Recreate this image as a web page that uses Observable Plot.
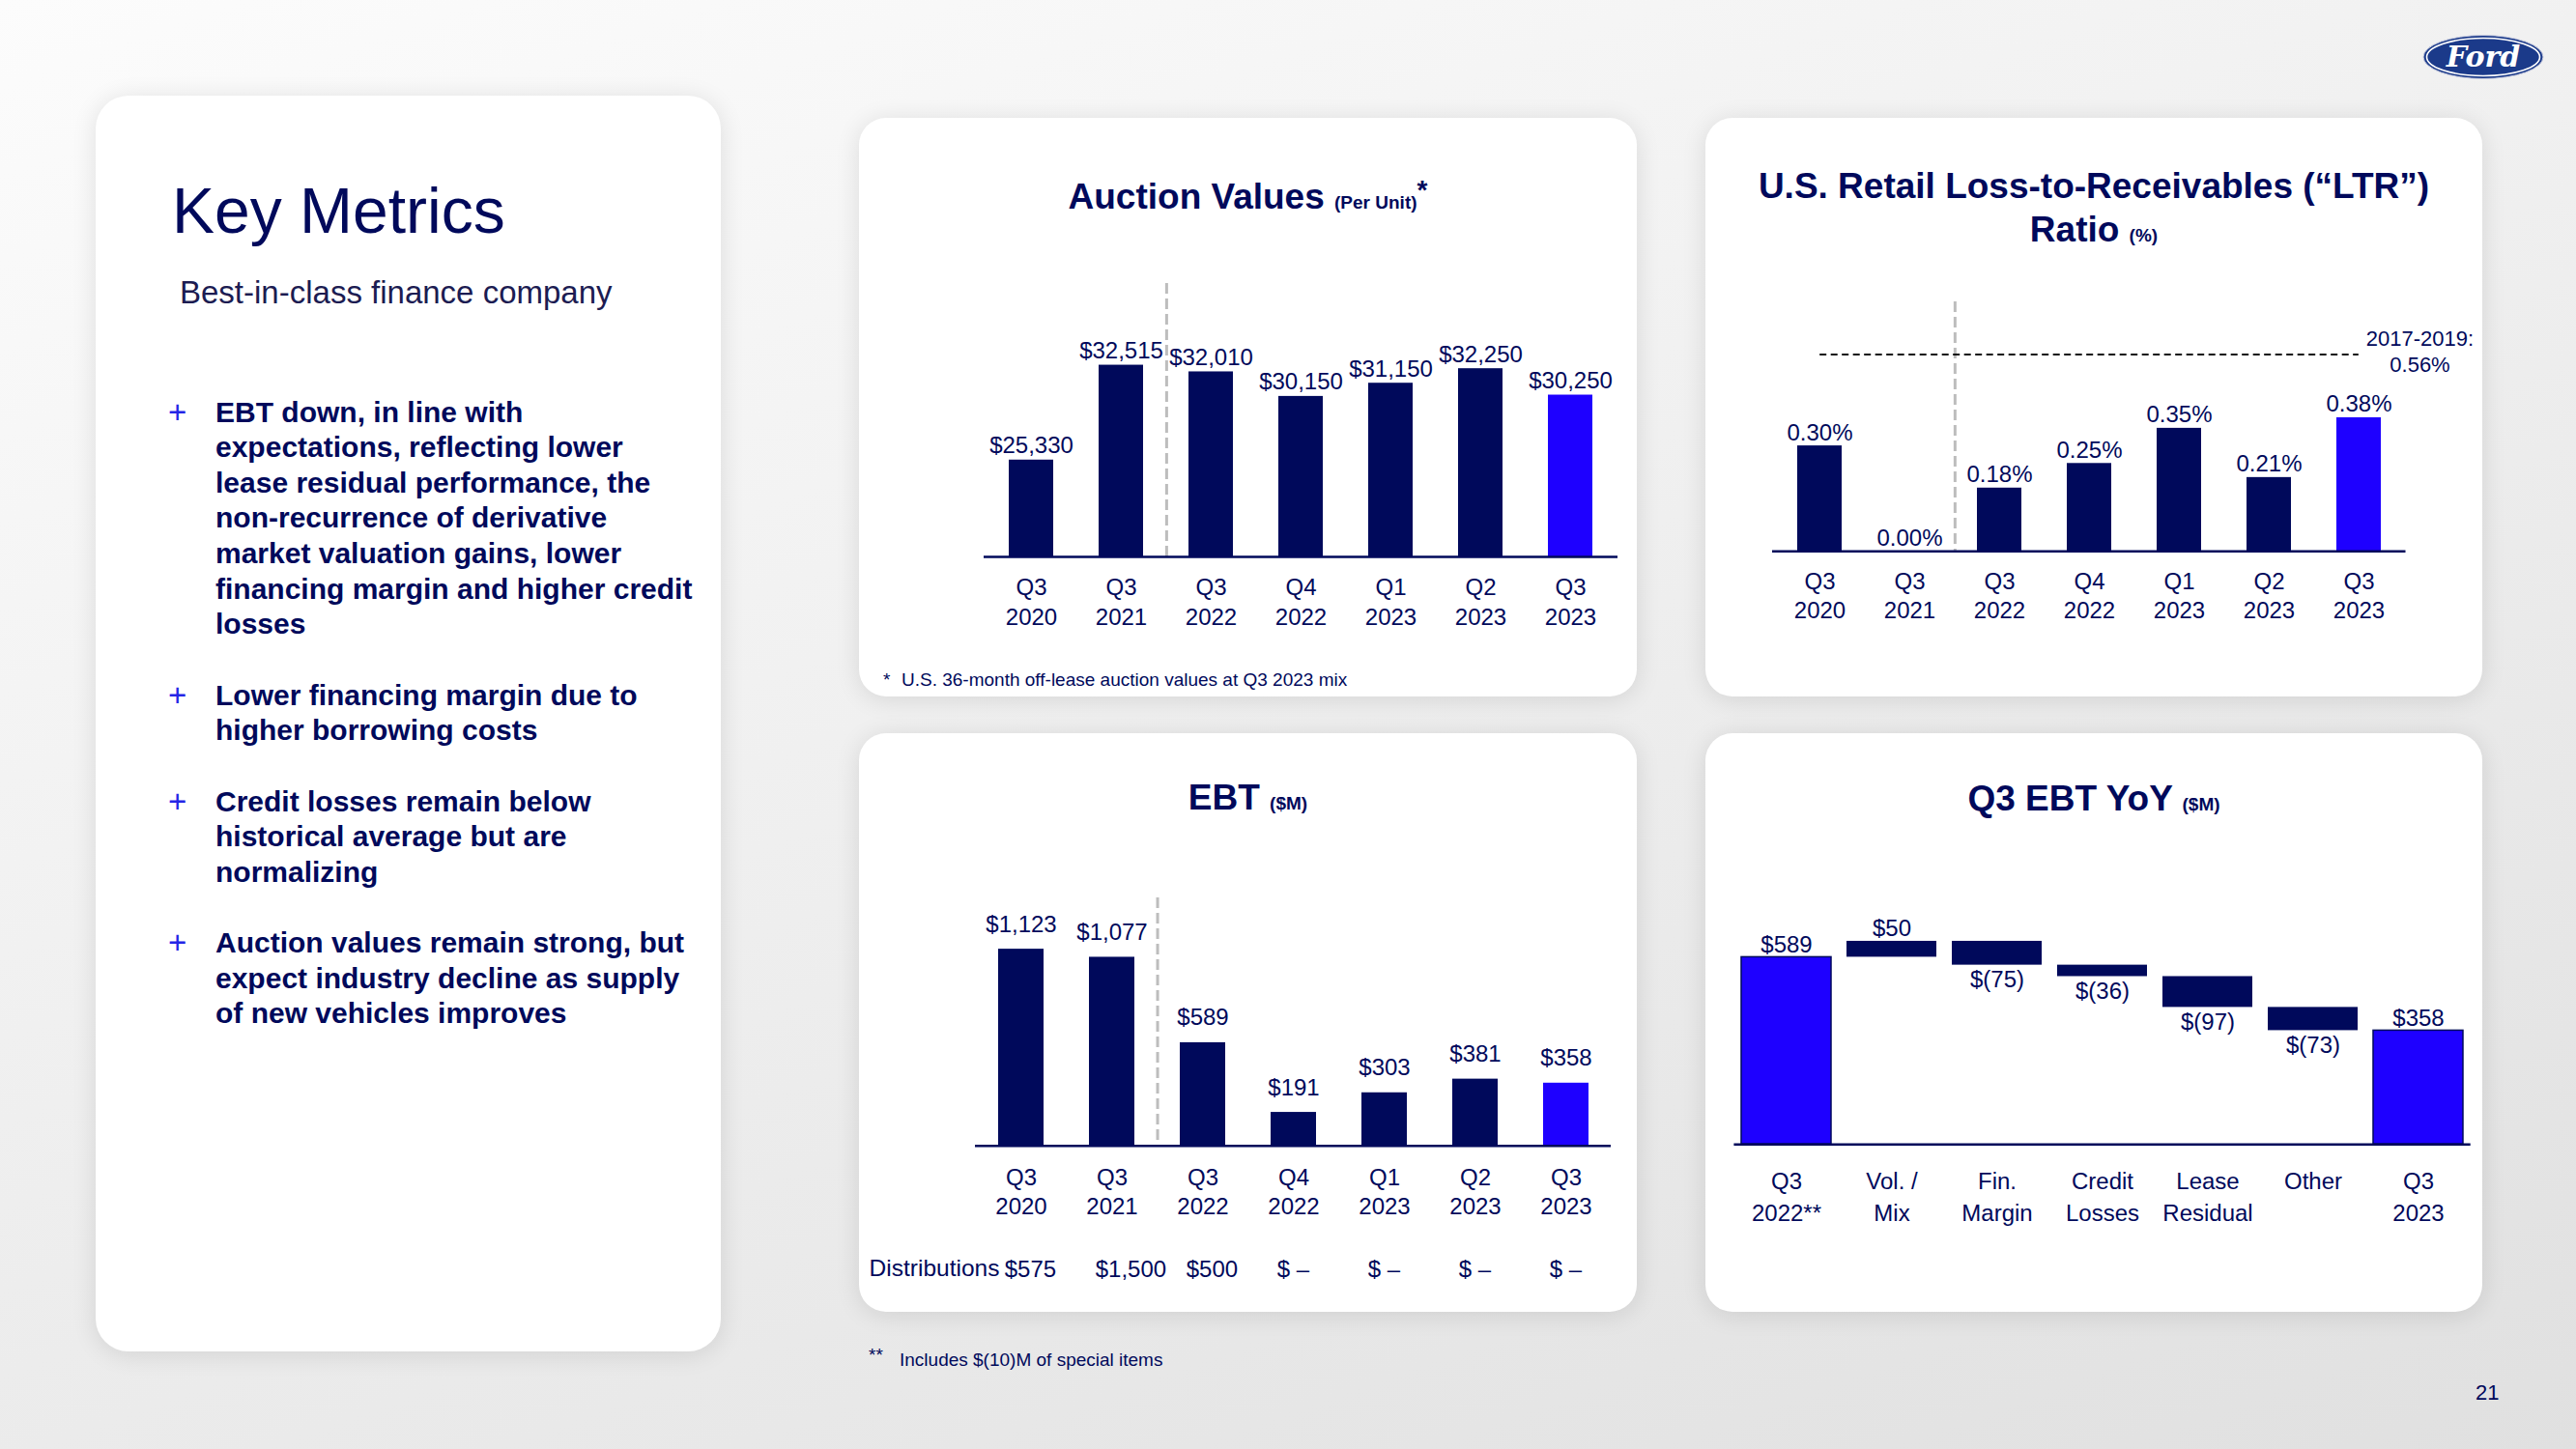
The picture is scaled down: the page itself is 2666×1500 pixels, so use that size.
<!DOCTYPE html>
<html>
<head>
<meta charset="utf-8">
<script src="https://cdn.jsdelivr.net/npm/d3@7"></script>
<script src="https://cdn.jsdelivr.net/npm/@observablehq/plot@0.6"></script>
<style>
  html, body { margin: 0; padding: 0; }
  body {
    width: 2666px; height: 1500px; position: relative; overflow: hidden;
    background: linear-gradient(160deg, #fcfcfc 0%, #f1f1f1 40%, #e0e0e0 100%);
    font-family: "Liberation Sans", Arial, sans-serif; color: #00095b;
  }
  .panel { position: absolute; background: #ffffff; border-radius: 28px; box-shadow: 0 3px 26px rgba(0,0,0,0.11); }
  .abs { position: absolute; white-space: nowrap; }
  .title { font-weight: bold; font-size: 37px; line-height: 37px; text-align: center; }
  .sm { font-size: 19px; line-height: 1; }
  .bullet { font-weight: bold; font-size: 30px; line-height: 36.6px; }
  .plus { position: absolute; left: -49px; top: 0; font-weight: normal; font-size: 33px; color: #2525e6; }
  .chart { position: absolute; }
</style>
</head>
<body>
<!-- panels -->
<div class="panel" style="left:99px;top:99px;width:647px;height:1300px;border-radius:34px;"></div>
<div class="panel" style="left:889px;top:122px;width:805px;height:599px;"></div>
<div class="panel" style="left:1765px;top:122px;width:804px;height:599px;"></div>
<div class="panel" style="left:889px;top:759px;width:805px;height:599px;"></div>
<div class="panel" style="left:1765px;top:759px;width:804px;height:599px;"></div>

<!-- left text -->
<div class="abs" style="left:178px;top:185px;font-size:66px;line-height:66px;">Key Metrics</div>
<div class="abs" style="left:186px;top:286px;font-size:33px;line-height:33px;color:#1c1c52;">Best-in-class finance company</div>

<div class="abs bullet" style="left:223px;top:408.7px;"><span class="plus">+</span>EBT down, in line with<br>expectations, reflecting lower<br>lease residual performance, the<br>non-recurrence of derivative<br>market valuation gains, lower<br>financing margin and higher credit<br>losses</div>
<div class="abs bullet" style="left:223px;top:701.6px;"><span class="plus">+</span>Lower financing margin due to<br>higher borrowing costs</div>
<div class="abs bullet" style="left:223px;top:811.9px;"><span class="plus">+</span>Credit losses remain below<br>historical average but are<br>normalizing</div>
<div class="abs bullet" style="left:223px;top:958.3px;"><span class="plus">+</span>Auction values remain strong, but<br>expect industry decline as supply<br>of new vehicles improves</div>

<!-- chart titles -->
<div class="abs title" style="left:889px;width:805px;top:184.7px;">Auction Values <span class="sm">(Per Unit)</span><span style="position:relative;top:-10px;font-size:28px;line-height:1;">*</span></div>
<div class="abs title" style="left:1765px;width:804px;top:169.5px;line-height:45.4px;">U.S. Retail Loss-to-Receivables (“LTR”)<br>Ratio <span class="sm">(%)</span></div>
<div class="abs title" style="left:889px;width:805px;top:807.1px;">EBT <span class="sm">($M)</span></div>
<div class="abs title" style="left:1765px;width:804px;top:807.7px;">Q3 EBT YoY <span class="sm">($M)</span></div>

<!-- footnotes & misc -->
<div class="abs" style="left:914px;top:694px;font-size:19px;line-height:19px;">*</div>
<div class="abs" style="left:933px;top:694px;font-size:19px;line-height:19px;">U.S. 36-month off-lease auction values at Q3 2023 mix</div>
<div class="abs" style="left:899px;top:1393px;font-size:19px;line-height:19px;">**</div>
<div class="abs" style="left:931px;top:1398px;font-size:19px;line-height:19px;">Includes $(10)M of special items</div>
<div class="abs" style="left:899.6px;top:1301.4px;font-size:24.5px;line-height:24.5px;">Distributions</div>
<div class="abs" style="left:2562px;top:1431.4px;font-size:22px;line-height:22px;">21</div>

<!-- logo -->
<svg class="abs" style="left:2506px;top:34px" width="128" height="50" viewBox="0 0 128 50">
  <ellipse cx="64" cy="25" rx="62" ry="22.5" fill="#1b3a8a" stroke="#c9cde0" stroke-width="1"/>
  <ellipse cx="64" cy="25" rx="58.5" ry="19.5" fill="none" stroke="#ffffff" stroke-width="1.6"/>
  <text x="64" y="35" text-anchor="middle" font-family="DejaVu Serif" font-style="italic" font-weight="bold" font-size="30" fill="#ffffff">Ford</text>
</svg>

<script>
// ---------- data ----------
const quarters = ["Q3 2020", "Q3 2021", "Q3 2022", "Q4 2022", "Q1 2023", "Q2 2023", "Q3 2023"];
const auctionValues = [25330, 32515, 32010, 30150, 31150, 32250, 30250];
const auctionBase = 18000;
const ltrValues = [0.30, 0.00, 0.18, 0.25, 0.35, 0.21, 0.38];
const ltrBenchmark = 0.56;
const ltrBenchmarkPeriod = "2017-2019:";
const ebtValues = [1123, 1077, 589, 191, 303, 381, 358];
const distributions = [575, 1500, 500, 0, 0, 0, 0];
const wfCategories = ["Q3\n2022**", "Vol. /\nMix", "Fin.\nMargin", "Credit\nLosses", "Lease\nResidual", "Other", "Q3\n2023"];
const wfValues = [589, 50, -75, -36, -97, -73, 358];
const wfIsTotal = [true, false, false, false, false, false, true];
const highlight = "Q3 2023";
const dividerAfter = "Q3 2021";

// ---------- style ----------
const navy = "#00095b";
const bright = "#1e00ff";
const font = '"Liberation Sans", Arial, sans-serif';
const baseStyle = {fontFamily: font, fontSize: "24px", color: navy, background: "transparent", overflow: "visible"};
const pIn = 0.505, pOut = 0.25;

function place(svg, left, top) {
  const d = document.createElement("div");
  d.className = "chart";
  d.style.left = left + "px";
  d.style.top = top + "px";
  d.appendChild(svg);
  document.body.appendChild(d);
}
const qLabel = d => d.replace(" ", "\n");
const stepOf = (w, ml, mr, n, pi, po) => (w - ml - mr) / (n - pi + 2 * po);

// ---------- Auction Values ----------
{
  const data = quarters.map((q, i) => ({q, v: auctionValues[i]}));
  const W = 805, ML = 129, MR = 20;
  const step = stepOf(W, ML, MR, quarters.length, pIn, pOut);
  const svg = Plot.plot({
    width: W, height: 393, marginTop: 20, marginBottom: 90, marginLeft: ML, marginRight: MR,
    x: {domain: quarters, paddingInner: pIn, paddingOuter: pOut},
    y: {domain: [auctionBase, 38700], axis: null},
    color: {type: "identity"},
    style: baseStyle,
    marks: [
      Plot.ruleX([dividerAfter], {x: d => d, dx: step / 2, stroke: "#bdbdbd", strokeWidth: 3, strokeDasharray: "11,5"}),
      Plot.barY(data, {x: "q", y1: auctionBase, y2: "v", fill: d => d.q === highlight ? bright : navy}),
      Plot.ruleY([auctionBase], {stroke: navy, strokeWidth: 2.5}),
      Plot.text(data, {x: "q", y: "v", text: d => d3.format("$,")(d.v), lineAnchor: "bottom", dy: -7, fill: navy, fontSize: 24}),
      Plot.axisX({tickSize: 0, tickPadding: 18, fontSize: 24, lineHeight: 1.28, tickFormat: qLabel, label: null})
    ]
  });
  place(svg, 889, 273);
}

// ---------- LTR ----------
{
  const data = quarters.map((q, i) => ({q, v: ltrValues[i]}));
  const W = 804, ML = 69, MR = 79.5;
  const step = stepOf(W, ML, MR, quarters.length, pIn, pOut);
  const band = step * (1 - pIn);
  const pct = v => d3.format(".2f")(v) + "%";
  const svg = Plot.plot({
    width: W, height: 368.3, marginTop: 20, marginBottom: 90, marginLeft: ML, marginRight: MR,
    x: {domain: quarters, paddingInner: pIn, paddingOuter: pOut},
    y: {domain: [0, 0.7096], axis: null},
    color: {type: "identity"},
    style: baseStyle,
    marks: [
      Plot.ruleX([dividerAfter], {x: d => d, dx: step / 2, stroke: "#bdbdbd", strokeWidth: 3, strokeDasharray: "11,5"}),
      Plot.ruleY([ltrBenchmark], {y: d => d, x1: () => quarters[0], x2: () => quarters[quarters.length - 1],
        insetLeft: band / 2, insetRight: band / 2, stroke: "#111111", strokeWidth: 2, strokeDasharray: "7,4.5"}),
      Plot.barY(data, {x: "q", y: "v", fill: d => d.q === highlight ? bright : navy}),
      Plot.ruleY([0], {stroke: navy, strokeWidth: 2.5}),
      Plot.text(data, {x: "q", y: "v", text: d => pct(d.v), lineAnchor: "bottom", dy: -6, fill: navy, fontSize: 24}),
      Plot.text([ltrBenchmark], {x: () => highlight, y: d => d, text: d => ltrBenchmarkPeriod + "\n" + pct(d),
        dx: 63, dy: -4, fontSize: 22, lineHeight: 1.23, lineAnchor: "middle", fill: navy}),
      Plot.axisX({tickSize: 0, tickPadding: 18, fontSize: 24, lineHeight: 1.25, tickFormat: qLabel, label: null})
    ]
  });
  place(svg, 1765, 291.7);
}

// ---------- EBT ----------
{
  const data = quarters.map((q, i) => ({q, v: ebtValues[i], dist: distributions[i]}));
  const W = 805, ML = 120, MR = 27;
  const step = stepOf(W, ML, MR, quarters.length, pIn, pOut);
  const band = step * (1 - pIn);
  const svg = Plot.plot({
    width: W, height: 426.7, marginTop: 20, marginBottom: 150, marginLeft: ML, marginRight: MR,
    x: {domain: quarters, paddingInner: pIn, paddingOuter: pOut},
    y: {domain: [0, 1416], axis: null},
    color: {type: "identity"},
    style: baseStyle,
    marks: [
      Plot.ruleX([dividerAfter], {x: d => d, dx: step / 2, stroke: "#bdbdbd", strokeWidth: 3, strokeDasharray: "11,5"}),
      Plot.barY(data, {x: "q", y: "v", fill: d => d.q === highlight ? bright : navy}),
      Plot.ruleY([0], {stroke: navy, strokeWidth: 2.5}),
      Plot.text(data, {x: "q", y: "v", text: d => d3.format("$,")(d.v), lineAnchor: "bottom", dy: -18, fill: navy, fontSize: 24}),
      Plot.text(data, {x: "q", frameAnchor: "bottom", dy: 128, dx: -band / 2 + 6, textAnchor: "start", lineAnchor: "middle",
        fill: navy, fontSize: 24, text: d => d.dist ? d3.format("$,")(d.dist) : "$ \u2013"}),
      Plot.axisX({tickSize: 0, tickPadding: 19.5, fontSize: 24, lineHeight: 1.25, tickFormat: qLabel, label: null})
    ]
  });
  place(svg, 889, 908.6);
}

// ---------- Q3 EBT YoY waterfall ----------
{
  let run = 0;
  const data = wfCategories.map((c, i) => {
    const v = wfValues[i];
    let y1, y2;
    if (wfIsTotal[i]) { y1 = 0; y2 = v; run = v; }
    else { y1 = run; y2 = run + v; run = y2; }
    return {c, v, y1, y2, total: wfIsTotal[i]};
  });
  const money = v => v < 0 ? `$(${-v})` : `$${v}`;
  const W = 804, ML = 29.4, MR = 12.3;
  const svg = Plot.plot({
    width: W, height: 404.2, marginTop: 20, marginBottom: 100, marginLeft: ML, marginRight: MR,
    x: {domain: wfCategories, paddingInner: 0.148, paddingOuter: 0.064},
    y: {domain: [0, 863.8], axis: null},
    color: {type: "identity"},
    style: baseStyle,
    marks: [
      Plot.barY(data, {x: "c", y1: "y1", y2: "y2", fill: d => d.total ? bright : navy,
        stroke: d => d.total ? navy : "none", strokeWidth: 1.5}),
      Plot.ruleY([0], {stroke: navy, strokeWidth: 2.5}),
      Plot.text(data.filter(d => d.total || d.v > 0), {x: "c", y: d => Math.max(d.y1, d.y2), text: d => money(d.v),
        lineAnchor: "bottom", dy: -5, fill: navy, fontSize: 24}),
      Plot.text(data.filter(d => !d.total && d.v < 0), {x: "c", y: d => Math.min(d.y1, d.y2), text: d => money(d.v),
        lineAnchor: "top", dy: 6, fill: navy, fontSize: 24}),
      Plot.axisX({tickSize: 0, tickPadding: 22.5, fontSize: 24, lineHeight: 1.375, label: null})
    ]
  });
  place(svg, 1765, 880);
}
</script>
</body>
</html>
